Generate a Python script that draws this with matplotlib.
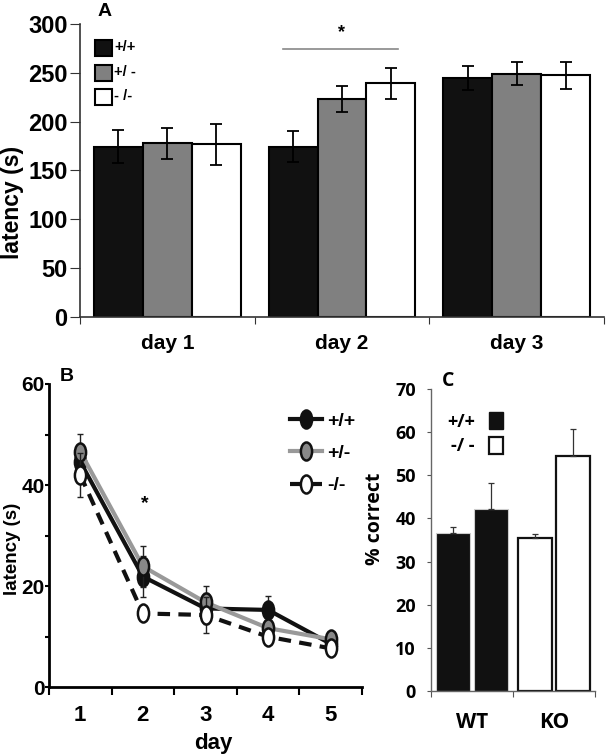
import matplotlib
matplotlib.use("Agg")
import matplotlib.pyplot as plt
import numpy as np
from matplotlib.patches import Patch
from matplotlib.path import Path
from matplotlib.transforms import Affine2D
from matplotlib.markers import MarkerStyle

plt.rcParams['font.family'] = ['Liberation Sans', 'DejaVu Sans']
plt.rcParams['font.weight'] = 'bold'
plt.rcParams['axes.labelweight'] = 'bold'

# panel A - latency per day (bars)
days_a = ['day 1', 'day 2', 'day 3']
wt_a = [174.5, 174.5, 244.8]
het_a = [178.0, 223.3, 249.2]
ko_a = [177.0, 239.3, 247.5]
wt_a_err = [16.5, 16.0, 12.0]
het_a_err = [16.0, 13.0, 12.0]
ko_a_err = [21.0, 16.0, 14.0]

# panel B - latency over days (lines)
days_b = [1, 2, 3, 4, 5]
wt_b = [44.6, 21.9, 15.6, 15.3, 8.6]
het_b = [46.6, 23.9, 16.8, 11.7, 9.5]
ko_b = [42.0, 14.6, 14.3, 10.0, 7.7]
wt_b_err = [3.5, 4.0, 3.0, 2.7, 1.0]
het_b_err = [3.6, 4.0, 3.2, 1.5, 1.0]
ko_b_err = [4.3, 1.5, 3.6, 1.5, 1.0]

# panel C - % correct
groups_c = ['WT', 'KO']
wt_c = [36.7, 42.1]
ko_c = [35.5, 54.5]
wt_c_err = [1.3, 6.2]
ko_c_err = [0.9, 6.2]

fig = plt.figure(figsize=(6.08, 7.56), dpi=100)

# ---------------- A ----------------
ax = fig.add_axes([0.1316, 0.5807, 0.8618, 0.3876])
x = np.arange(len(days_a))
w = 0.28
kw = dict(edgecolor='black', linewidth=1.5, error_kw=dict(elinewidth=1.3, capthick=1.3), capsize=4)
ax.bar(x - w, wt_a, w, yerr=wt_a_err, color='#111111', label='+/+', **kw)
ax.bar(x, het_a, w, yerr=het_a_err, color='#808080', label='+/ -', **kw)
ax.bar(x + w, ko_a, w, yerr=ko_a_err, color='white', label='- /-', **kw)
ax.plot([1 - 0.34, 1 + 0.32], [274.4, 274.4], color='#888888', lw=1.2)
ax.text(1, 291, '*', ha='center', va='center', fontsize=13)
ax.set_xlim(-0.5, 2.5)
ax.set_ylim(0, 300)
ax.set_yticks(np.arange(0, 301, 50))
ax.set_xticks([-0.5, 0.5, 1.5, 2.5])
ax.set_xticklabels([])
ax.set_xticks(x, minor=True)
ax.set_xticklabels(days_a, minor=True)
ax.tick_params(axis='x', which='major', length=5, direction='out', color='#333333')
ax.tick_params(axis='x', which='minor', length=0, pad=12, labelsize=15)
ax.tick_params(axis='y', length=7, direction='out', pad=2, labelsize=17, color='#333333')
for s in ['top', 'right']:
    ax.spines[s].set_visible(False)
for s in ['left', 'bottom']:
    ax.spines[s].set_color('#333333')
    ax.spines[s].set_linewidth(1.2)
ax.set_ylabel('latency (s)', fontsize=16.5)
ax.yaxis.set_label_coords(-0.107, 0.39)
leg = ax.legend(loc='upper left', bbox_to_anchor=(0.0286, 0.945), frameon=False, fontsize=10.5,
                handlelength=1.18, handleheight=1.3, labelspacing=0.6, handletextpad=0.15,
                borderpad=0, borderaxespad=0)
try:
    for row in leg._legend_handle_box.get_children()[0].get_children():
        row.align = 'top'
except Exception:
    pass

# ---------------- B ----------------
bx = fig.add_axes([0.0806, 0.0909, 0.5148, 0.4012])
ell = MarkerStyle(Path.unit_circle().transformed(Affine2D().scale(0.62, 1.0)))
series = [
    (wt_b, wt_b_err, '#111111', '#111111', '-', '+/+'),
    (het_b, het_b_err, '#999999', '#888888', '-', '+/-'),
    (ko_b, ko_b_err, '#111111', 'white', '--', '-/-'),
]
handles = []
for vals, err, lc, fc, ls, lab in series:
    bx.errorbar(days_b, vals, yerr=err, fmt='none', ecolor='#222222', elinewidth=1, capsize=2.5)
    ln, = bx.plot(days_b, vals, color=lc, ls=ls, lw=3, marker=ell, ms=13,
                  markerfacecolor=fc, markeredgecolor='#111111', markeredgewidth=1.8,
                  dashes=(3, 2) if ls == '--' else (None, None), label=lab)
    handles.append(ln)
bx.text(2.03, 36.4, '*', ha='center', va='center', fontsize=14)
bx.set_xlim(0.5, 5.5)
bx.set_ylim(0, 60)
bx.set_yticks(np.arange(0, 61, 10))
bx.set_yticklabels(['0', '', '20', '', '40', '', '60'])
bx.set_xticks(np.arange(0.5, 5.6, 1))
bx.set_xticklabels([])
bx.set_xticks(days_b, minor=True)
bx.set_xticklabels([str(d) for d in days_b], minor=True)
bx.tick_params(axis='x', which='major', length=6, width=1.5, direction='out')
bx.tick_params(axis='x', which='minor', length=0, pad=13, labelsize=16)
bx.tick_params(axis='y', length=3, width=1.5, direction='out', pad=0, labelsize=15)
for s in ['top', 'right']:
    bx.spines[s].set_visible(False)
for s in ['left', 'bottom']:
    bx.spines[s].set_linewidth(2)
bx.set_ylabel('latency (s)', fontsize=13.5)
bx.yaxis.set_label_coords(-0.0895, 0.455)
bx.set_xlabel('day', fontsize=16)
bx.xaxis.set_label_coords(0.524, -0.15)
bx.legend(handles=handles, loc='upper left', bbox_to_anchor=(0.77, 0.906), frameon=False,
          fontsize=14, handlelength=1.65, handletextpad=0.26, labelspacing=0.75,
          borderpad=0, borderaxespad=0)

# ---------------- C ----------------
cf = ['Open Sans', 'DejaVu Sans']
cx = fig.add_axes([0.7089, 0.0864, 0.2697, 0.3987])
xc = np.arange(len(groups_c))
wc = 0.42
off = 0.23
ekw = dict(elinewidth=0.9, capthick=0.9, ecolor='#333333')
cx.bar(xc[0] - off, wt_c[0], wc, yerr=[[0], [wt_c_err[0]]], color='#111111', edgecolor='#cccccc',
       linewidth=0.8, capsize=2.5, error_kw=ekw)
cx.bar(xc[0] + off, wt_c[1], wc, yerr=[[0], [wt_c_err[1]]], color='#111111', edgecolor='#cccccc',
       linewidth=0.8, capsize=2.5, error_kw=ekw)
cx.bar(xc[1] - off, ko_c[0], wc, yerr=[[0], [ko_c_err[0]]], color='white', edgecolor='#111111',
       linewidth=1.6, capsize=2.5, error_kw=ekw)
cx.bar(xc[1] + off, ko_c[1], wc, yerr=[[0], [ko_c_err[1]]], color='white', edgecolor='#111111',
       linewidth=1.6, capsize=2.5, error_kw=ekw)
cx.set_xlim(-0.5, 1.5)
cx.set_ylim(0, 70)
cx.set_yticks(np.arange(0, 71, 10))
cx.set_xticks([-0.5, 0.5, 1.5])
cx.set_xticklabels([])
cx.set_xticks(xc, minor=True)
cx.set_xticklabels(groups_c, minor=True, family=cf, fontsize=15)
cx.tick_params(axis='x', which='major', length=4, direction='out', color='#555555')
cx.tick_params(axis='x', which='minor', length=0, pad=15)
cx.tick_params(axis='y', length=3, direction='out', pad=8, labelsize=13, color='#555555')
for t in cx.get_yticklabels():
    t.set_family(cf)
for s in ['top', 'right']:
    cx.spines[s].set_visible(False)
for s in ['left', 'bottom']:
    cx.spines[s].set_color('#666666')
    cx.spines[s].set_linewidth(1)
cx.set_ylabel('% correct', fontsize=14, family=cf)
cx.yaxis.set_label_coords(-0.28, 0.57)
ch = [Patch(facecolor='#111111', edgecolor='#111111', label='+/+'),
      Patch(facecolor='white', edgecolor='#111111', linewidth=1.6, label='-/ -')]
cx.legend(handles=ch, loc='upper right', bbox_to_anchor=(0.439, 0.925), frameon=False,
          markerfirst=False, prop=dict(family=cf, weight='bold', size=13),
          handlelength=0.78, handleheight=1.1, handletextpad=0.78, labelspacing=0.33,
          borderpad=0, borderaxespad=0)

# panel letters
fig.text(105 / 608, 1 - 12 / 756, 'A', ha='center', va='center', fontsize=14)
fig.text(67 / 608, 1 - 377 / 756, 'B', ha='center', va='center', fontsize=14)
fig.text(448 / 608, 1 - 381 / 756, 'C', ha='center', va='center', fontsize=14, family=cf)

fig.savefig('out.png', dpi=100)
